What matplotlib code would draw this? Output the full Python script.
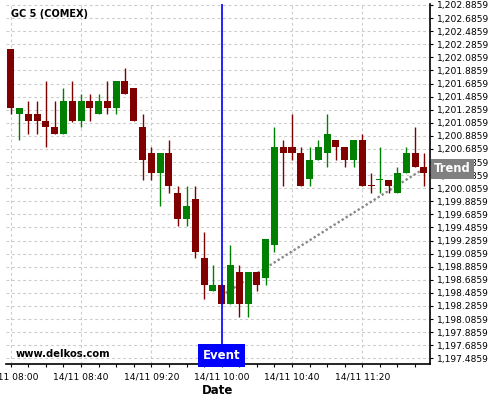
import matplotlib
matplotlib.use('Agg')
import matplotlib.pyplot as plt
import matplotlib.dates as mdates
import matplotlib.ticker as mticker
import matplotlib.transforms as mtransforms
import pandas as pd

# 5 minute candles, 14/11 08:00 -> 11:55
times = pd.date_range('2017-11-14 08:00', periods=48, freq='5min')
opens = [1202.214, 1201.225, 1201.220, 1201.220, 1201.113, 1201.021, 1200.920, 1201.419,
         1201.118, 1201.419, 1201.225, 1201.419, 1201.317, 1201.724, 1201.617, 1201.021,
         1200.624, 1200.324, 1200.624, 1200.017, 1199.615, 1199.921, 1199.019, 1198.520,
         1198.607, 1198.316, 1198.805, 1198.316, 1198.805, 1198.718, 1199.223, 1200.720,
         1200.720, 1200.624, 1200.222, 1200.522, 1200.629, 1200.822, 1200.720, 1200.522,
         1200.822, 1200.139, 1200.212, 1200.211, 1200.017, 1200.324, 1200.624, 1200.415]
highs = [1202.214, 1201.317, 1201.419, 1201.419, 1201.719, 1201.419, 1201.612, 1201.719,
         1201.521, 1201.521, 1201.521, 1201.719, 1201.724, 1201.918, 1201.617, 1201.215,
         1200.721, 1200.624, 1200.818, 1200.115, 1200.115, 1200.115, 1199.412, 1198.907,
         1198.607, 1199.218, 1198.907, 1198.805, 1198.805, 1199.310, 1201.021, 1200.818,
         1201.220, 1200.720, 1200.720, 1200.818, 1201.220, 1200.822, 1200.720, 1200.822,
         1200.919, 1200.323, 1200.720, 1200.211, 1200.410, 1200.720, 1201.021, 1200.624]
lows = [1201.215, 1200.818, 1200.909, 1200.909, 1200.721, 1200.920, 1200.920, 1201.103,
        1201.016, 1201.118, 1201.215, 1201.215, 1201.215, 1201.526, 1201.118, 1200.212,
        1200.212, 1199.819, 1200.008, 1199.508, 1199.508, 1199.014, 1198.397, 1198.520,
        1198.316, 1198.316, 1198.113, 1198.113, 1198.510, 1198.602, 1199.106, 1200.124,
        1200.522, 1200.124, 1200.124, 1200.510, 1200.410, 1200.512, 1200.410, 1200.410,
        1200.124, 1200.008, 1200.008, 1200.017, 1200.017, 1200.324, 1200.415, 1200.124]
closes = [1201.317, 1201.317, 1201.118, 1201.118, 1201.027, 1200.920, 1201.419, 1201.118,
          1201.419, 1201.317, 1201.419, 1201.317, 1201.724, 1201.526, 1201.118, 1200.522,
          1200.324, 1200.624, 1200.125, 1199.615, 1199.814, 1199.116, 1198.611, 1198.607,
          1198.316, 1198.912, 1198.316, 1198.805, 1198.611, 1199.310, 1200.720, 1200.629,
          1200.629, 1200.124, 1200.517, 1200.720, 1200.919, 1200.720, 1200.522, 1200.822,
          1200.124, 1200.124, 1200.222, 1200.124, 1200.323, 1200.624, 1200.415, 1200.324]

event_time = pd.Timestamp('2017-11-14 10:00')
trend_times = [pd.Timestamp('2017-11-14 10:00'), pd.Timestamp('2017-11-14 11:55')]
trend_prices = [1198.446, 1200.384]
yticks = [1197.4859 + 0.2 * i for i in range(28)]

up_col = '#008000'
down_col = '#800000'

fig = plt.figure(figsize=(5, 4), dpi=100)
ax = fig.add_axes([0.012, 0.09, 0.848, 0.90])

x = mdates.date2num(times)
w = 4.0 / (24 * 60)
for xi, o, h, l, c in zip(x, opens, highs, lows, closes):
    col = up_col if c >= o else down_col
    ax.vlines(xi, l, h, color=col, lw=1.0, zorder=3)
    ax.bar(xi, abs(c - o), bottom=min(o, c), width=w, color=col, lw=0, zorder=3)

# trend line
ax.plot(mdates.date2num(trend_times), trend_prices, color='#888888', lw=1.7,
        linestyle=(0, (1, 1)), zorder=2)

# event marker
ex = mdates.date2num(event_time)
ax.axvline(ex, color='blue', lw=1.2, zorder=4)
trans = mtransforms.blended_transform_factory(ax.transData, ax.transAxes)
ax.text(ex, 0.005, 'Event', transform=trans, ha='center', va='bottom', color='white',
        fontsize=8.5, fontweight='bold', zorder=6,
        bbox=dict(boxstyle='square,pad=0.4', fc='blue', ec='none'))

# trend label at right edge
ax.text(1.01, trend_prices[1], 'Trend', transform=mtransforms.blended_transform_factory(ax.transAxes, ax.transData),
        ha='left', va='center', color='white', fontsize=8.3, fontweight='bold', zorder=6,
        clip_on=False, bbox=dict(boxstyle='square,pad=0.3', fc='#808080', ec='none'))

ax.text(0.012, 0.972, 'GC 5 (COMEX)', transform=ax.transAxes, fontsize=7, fontweight='bold',
        va='center', ha='left')
ax.text(0.022, 0.029, 'www.delkos.com', transform=ax.transAxes, fontsize=7.2, fontweight='bold',
        va='center', ha='left')

xmin = mdates.date2num(pd.Timestamp('2017-11-14 08:00') - pd.Timedelta(minutes=2.67))
xmax = mdates.date2num(pd.Timestamp('2017-11-14 11:58:30'))
ax.set_xlim(xmin, xmax)
ax.set_ylim(1197.399, 1202.901)

ax.xaxis.set_major_locator(mticker.FixedLocator(
    mdates.date2num(pd.date_range('2017-11-14 08:00', '2017-11-14 11:20', freq='40min'))))
ax.xaxis.set_minor_locator(mticker.FixedLocator(
    mdates.date2num(pd.date_range('2017-11-14 08:00', '2017-11-14 11:50', freq='10min'))))
ax.xaxis.set_major_formatter(mdates.DateFormatter('%d/%m %H:%M'))

ax.yaxis.tick_right()
ax.set_yticks(yticks)
ax.yaxis.set_major_formatter(mticker.FuncFormatter(lambda v, p: '{:,.4f}'.format(v)))

ax.tick_params(axis='y', labelsize=6.6, length=2.5, pad=2.5, width=0.8)
ax.tick_params(axis='x', which='major', labelsize=6.6, length=2.5, pad=3.5, width=0.8)
ax.tick_params(axis='x', which='minor', length=2.5, width=0.8)

ax.grid(True, which='major', color='#cccccc', lw=0.8, linestyle=(0, (2.5, 2.5)))
ax.set_axisbelow(True)

for s in ['left', 'top']:
    ax.spines[s].set_visible(False)
for s in ['right', 'bottom']:
    ax.spines[s].set_linewidth(1.2)

ax.set_xlabel('Date', fontsize=8.5, fontweight='bold', labelpad=2)

fig.savefig('out.png', dpi=100)
